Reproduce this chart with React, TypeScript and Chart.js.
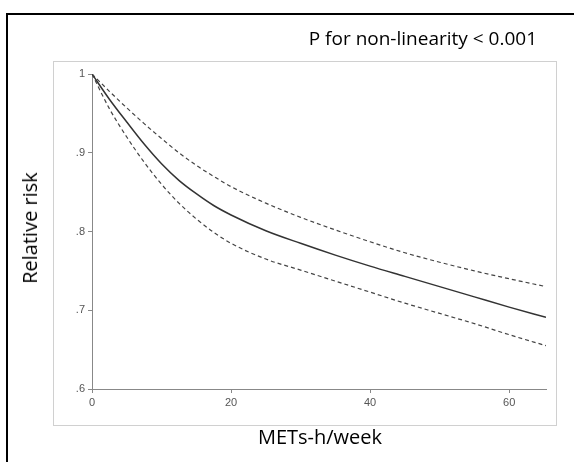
import React, { useEffect, useRef } from "react";
import { Chart, registerables } from "chart.js";

Chart.register(...registerables);

const metsHours = [0, 2.5, 5, 7.5, 10, 12.5, 15, 17.5, 20, 25, 30, 35, 40, 45, 50, 55, 60, 65.3];
const relativeRisk = [1, 0.968, 0.939, 0.911, 0.886, 0.865, 0.848, 0.833, 0.821, 0.801, 0.785, 0.77, 0.756, 0.743, 0.73, 0.717, 0.704, 0.691];
const upperCI = [1, 0.978, 0.957, 0.937, 0.918, 0.9, 0.884, 0.87, 0.857, 0.836, 0.818, 0.802, 0.787, 0.773, 0.761, 0.75, 0.74, 0.73];
const lowerCI = [1, 0.956, 0.92, 0.888, 0.86, 0.836, 0.816, 0.799, 0.785, 0.765, 0.751, 0.737, 0.723, 0.709, 0.696, 0.683, 0.669, 0.655];

const xTicks = [0, 20, 40, 60];
const yTicks = [0.6, 0.7, 0.8, 0.9, 1.0];
const yTickLabels = [".6", ".7", ".8", ".9", "1"];

const titleText = "P for non-linearity < 0.001";
const xTitle = "METs-h/week";
const yTitle = "Relative risk";

const toPoints = (ys: number[]) => metsHours.map((x, i) => ({ x, y: ys[i] }));

const framePlugin = {
  id: "frames",
  beforeDraw(chart: any) {
    const ctx = chart.ctx;
    ctx.save();
    ctx.fillStyle = "#ffffff";
    ctx.fillRect(0, 0, chart.width, chart.height);
    ctx.strokeStyle = "#d0d0d0";
    ctx.lineWidth = 1;
    ctx.strokeRect(53.5, 61.5, 503, 364);
    ctx.strokeStyle = "#000000";
    ctx.lineWidth = 2;
    ctx.strokeRect(7, 14, 620, 520);
    ctx.restore();
  },
};

export default function App() {
  const ref = useRef<HTMLCanvasElement>(null);

  useEffect(() => {
    if (!ref.current) return;
    const chart = new Chart(ref.current, {
      type: "line",
      data: {
        datasets: [
          {
            data: toPoints(upperCI),
            borderColor: "#444444",
            borderWidth: 1.2,
            borderDash: [4, 3],
            pointRadius: 0,
            fill: false,
            cubicInterpolationMode: "monotone",
          },
          {
            data: toPoints(relativeRisk),
            borderColor: "#333333",
            borderWidth: 1.5,
            pointRadius: 0,
            fill: false,
            cubicInterpolationMode: "monotone",
          },
          {
            data: toPoints(lowerCI),
            borderColor: "#444444",
            borderWidth: 1.2,
            borderDash: [4, 3],
            pointRadius: 0,
            fill: false,
            cubicInterpolationMode: "monotone",
          },
        ],
      },
      options: {
        animation: false,
        responsive: false,
        maintainAspectRatio: false,
        layout: { padding: { left: 0, top: 74, right: 28, bottom: 0 } },
        plugins: { legend: { display: false }, tooltip: { enabled: false }, title: { display: false } },
        scales: {
          x: {
            type: "linear",
            min: 0,
            max: 65.3,
            afterFit: (s: any) => {
              s.height = 73;
            },
            afterBuildTicks: (s: any) => {
              s.ticks = xTicks.map((v) => ({ value: v }));
            },
            grid: { display: true, drawOnChartArea: false, drawTicks: true, tickLength: 4, color: "#888888" },
            border: { display: true, color: "#888888", width: 1 },
            ticks: {
              color: "#555555",
              font: { family: "Liberation Sans", size: 11 },
              padding: 3,
              maxRotation: 0,
              callback: (v: any) => String(v),
            },
          },
          y: {
            type: "linear",
            min: 0.6,
            max: 1.0,
            afterFit: (s: any) => {
              s.width = 92;
            },
            afterBuildTicks: (s: any) => {
              s.ticks = yTicks.map((v) => ({ value: v }));
            },
            grid: { display: true, drawOnChartArea: false, drawTicks: true, tickLength: 4, color: "#888888" },
            border: { display: true, color: "#888888", width: 1 },
            ticks: {
              color: "#555555",
              font: { family: "Liberation Sans", size: 11 },
              padding: 3,
              callback: (v: any) => {
                const i = yTicks.findIndex((t) => Math.abs(t - Number(v)) < 1e-6);
                return i >= 0 ? yTickLabels[i] : "";
              },
            },
          },
        },
      },
      plugins: [framePlugin],
    });
    return () => chart.destroy();
  }, []);

  return (
    <div style={{ position: "absolute", left: 0, top: 0, width: 574, height: 462, overflow: "hidden", background: "#fff" }}>
      <canvas ref={ref} width={574} height={462} style={{ position: "absolute", left: 0, top: 0, width: 574, height: 462 }} />
      <div
        style={{
          position: "absolute",
          right: 37,
          top: 25,
          textAlign: "right",
          fontFamily: "'Open Sans', sans-serif",
          fontSize: 19,
          lineHeight: "26px",
          whiteSpace: "nowrap",
          color: "#000",
        }}
      >
        {titleText}
      </div>
      <div
        style={{
          position: "absolute",
          left: 0,
          width: 640,
          top: 423,
          textAlign: "center",
          fontFamily: "'Open Sans', sans-serif",
          fontSize: 20,
          lineHeight: "28px",
          whiteSpace: "nowrap",
          color: "#000",
        }}
      >
        {xTitle}
      </div>
      <div
        style={{
          position: "absolute",
          left: 30,
          top: 228,
          transform: "translate(-50%, -50%) rotate(-90deg)",
          fontFamily: "'Open Sans', sans-serif",
          fontSize: 20,
          lineHeight: "28px",
          whiteSpace: "nowrap",
          color: "#000",
        }}
      >
        {yTitle}
      </div>
    </div>
  );
}
